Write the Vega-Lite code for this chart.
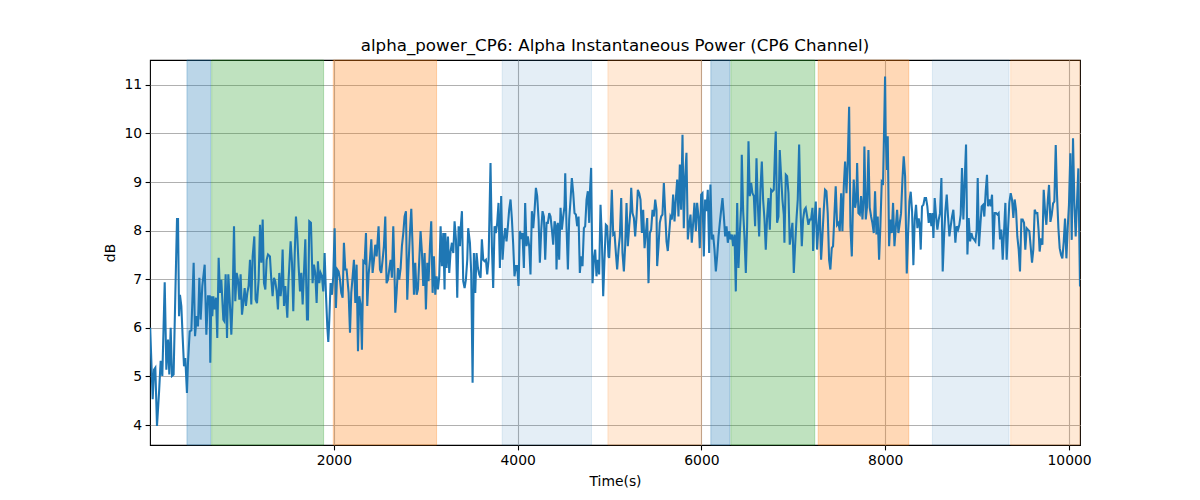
{
"$schema":"https://vega.github.io/schema/vega-lite/v6.json",
"autosize":{"type":"none"},
"width":930,"height":385,
"padding":{"left":150,"top":60,"right":120,"bottom":55},
"background":"white",
"title":{"text":"alpha_power_CP6: Alpha Instantaneous Power (CP6 Channel)","font":"DejaVu Sans","fontSize":16.67,"fontWeight":"normal","color":"black","baseline":"alphabetic","offset":-8},
"config":{"font":"DejaVu Sans","view":{"stroke":"black","strokeWidth":1.1},
"axis":{"domain":false,"grid":true,"gridColor":"#b0b0b0","gridWidth":1.1,"tickColor":"black","tickSize":4.9,"tickWidth":1.1,"labelFont":"DejaVu Sans","labelFontSize":13.9,"labelColor":"black","labelPadding":3.5,"titleFont":"DejaVu Sans","titleFontSize":13.9,"titleFontWeight":"normal","titleColor":"black"}},
"datasets":{
"spans":[
{"start":402,"end":660,"kind":"blue"},
{"start":671,"end":1889,"kind":"green"},
{"start":1994,"end":3118,"kind":"orange"},
{"start":3832,"end":4804,"kind":"lightblue"},
{"start":4982,"end":6001,"kind":"lightorange"},
{"start":6102,"end":6309,"kind":"blue"},
{"start":6320,"end":7233,"kind":"green"},
{"start":7270,"end":8256,"kind":"orange"},
{"start":8513,"end":9347,"kind":"lightblue"},
{"start":9365,"end":10119,"kind":"lightorange"}
],
"sig":[
{"t":2,"v":6.0},{"t":29,"v":4.53},{"t":44,"v":5.14},{"t":58,"v":5.18},{"t":76,"v":3.98},{"t":98,"v":4.66},{"t":116,"v":5.32},{"t":134,"v":5.01},{"t":160,"v":6.94},{"t":178,"v":5.14},{"t":196,"v":5.76},{"t":210,"v":5.04},{"t":225,"v":6.0},{"t":239,"v":5.01},{"t":257,"v":5.04},{"t":276,"v":6.72},{"t":294,"v":8.24},{"t":305,"v":8.24},{"t":316,"v":6.24},{"t":326,"v":6.68},{"t":341,"v":6.45},{"t":355,"v":5.83},{"t":370,"v":5.21},{"t":384,"v":5.38},{"t":402,"v":4.66},{"t":413,"v":5.28},{"t":432,"v":5.93},{"t":450,"v":5.95},{"t":475,"v":7.34},{"t":490,"v":5.83},{"t":508,"v":6.24},{"t":522,"v":6.03},{"t":537,"v":7.03},{"t":551,"v":6.17},{"t":569,"v":6.86},{"t":595,"v":7.3},{"t":613,"v":5.86},{"t":631,"v":6.65},{"t":649,"v":6.65},{"t":656,"v":5.28},{"t":667,"v":6.65},{"t":678,"v":6.24},{"t":689,"v":6.65},{"t":703,"v":6.38},{"t":718,"v":6.62},{"t":732,"v":5.79},{"t":747,"v":7.44},{"t":761,"v":6.72},{"t":776,"v":6.99},{"t":798,"v":6.17},{"t":808,"v":6.14},{"t":823,"v":7.1},{"t":838,"v":5.79},{"t":852,"v":7.1},{"t":867,"v":6.58},{"t":885,"v":5.86},{"t":899,"v":6.58},{"t":914,"v":8.09},{"t":928,"v":6.55},{"t":943,"v":7.13},{"t":957,"v":6.99},{"t":972,"v":6.58},{"t":986,"v":7.1},{"t":1001,"v":6.27},{"t":1015,"v":6.51},{"t":1030,"v":6.82},{"t":1044,"v":6.45},{"t":1059,"v":6.72},{"t":1073,"v":6.86},{"t":1088,"v":7.4},{"t":1102,"v":6.48},{"t":1117,"v":7.47},{"t":1135,"v":7.88},{"t":1149,"v":6.58},{"t":1164,"v":6.51},{"t":1182,"v":6.99},{"t":1197,"v":8.12},{"t":1211,"v":7.34},{"t":1226,"v":8.23},{"t":1240,"v":6.92},{"t":1255,"v":6.79},{"t":1269,"v":7.4},{"t":1284,"v":7.51},{"t":1305,"v":7.47},{"t":1320,"v":6.99},{"t":1334,"v":6.65},{"t":1349,"v":7.03},{"t":1363,"v":6.96},{"t":1378,"v":6.75},{"t":1392,"v":6.38},{"t":1407,"v":7.13},{"t":1421,"v":6.65},{"t":1429,"v":6.79},{"t":1443,"v":7.61},{"t":1458,"v":6.45},{"t":1472,"v":6.86},{"t":1494,"v":6.21},{"t":1508,"v":6.99},{"t":1530,"v":7.78},{"t":1545,"v":7.34},{"t":1559,"v":6.34},{"t":1574,"v":7.47},{"t":1588,"v":8.29},{"t":1603,"v":7.88},{"t":1617,"v":7.27},{"t":1632,"v":6.75},{"t":1646,"v":7.13},{"t":1661,"v":6.48},{"t":1675,"v":7.13},{"t":1690,"v":7.82},{"t":1708,"v":6.17},
{"t":1719,"v":6.17},{"t":1733,"v":8.19},{"t":1751,"v":8.16},{"t":1769,"v":6.92},{"t":1784,"v":7.3},{"t":1798,"v":7.13},{"t":1813,"v":6.51},{"t":1827,"v":7.37},{"t":1842,"v":6.92},{"t":1856,"v":7.13},{"t":1871,"v":7.06},{"t":1885,"v":6.75},{"t":1900,"v":7.54},{"t":1914,"v":6.72},{"t":1929,"v":6.03},{"t":1940,"v":5.71},{"t":1951,"v":6.17},{"t":1965,"v":6.92},{"t":1980,"v":6.68},{"t":1994,"v":7.06},{"t":2009,"v":8.05},{"t":2023,"v":6.41},{"t":2038,"v":7.2},{"t":2052,"v":7.16},{"t":2067,"v":6.99},{"t":2081,"v":6.72},{"t":2096,"v":6.62},{"t":2110,"v":7.75},{"t":2125,"v":7.2},{"t":2139,"v":7.2},{"t":2161,"v":6.72},{"t":2176,"v":5.9},{"t":2190,"v":6.72},{"t":2205,"v":7.06},{"t":2219,"v":7.4},{"t":2234,"v":6.51},{"t":2248,"v":7.3},{"t":2263,"v":5.52},{"t":2277,"v":6.65},{"t":2292,"v":6.48},{"t":2306,"v":5.55},{"t":2321,"v":7.37},{"t":2335,"v":7.34},{"t":2350,"v":7.95},{"t":2364,"v":6.45},{"t":2379,"v":7.1},{"t":2393,"v":7.4},{"t":2408,"v":7.82},{"t":2422,"v":7.13},{"t":2437,"v":7.4},{"t":2451,"v":7.71},{"t":2466,"v":7.47},{"t":2487,"v":8.09},{"t":2502,"v":7.2},{"t":2516,"v":7.13},{"t":2531,"v":7.4},{"t":2545,"v":7.68},{"t":2560,"v":8.29},{"t":2574,"v":6.92},{"t":2589,"v":6.99},{"t":2603,"v":7.2},{"t":2618,"v":7.4},{"t":2632,"v":7.03},{"t":2647,"v":8.09},{"t":2661,"v":7.06},{"t":2669,"v":6.31},{"t":2683,"v":6.72},{"t":2698,"v":7.23},{"t":2712,"v":6.99},{"t":2727,"v":7.23},{"t":2741,"v":7.68},{"t":2756,"v":7.95},{"t":2770,"v":8.29},{"t":2785,"v":8.4},{"t":2799,"v":6.58},{"t":2814,"v":7.34},{"t":2828,"v":7.95},{"t":2843,"v":8.45},{"t":2857,"v":7.68},{"t":2872,"v":6.68},{"t":2886,"v":7.34},{"t":2901,"v":6.68},{"t":2915,"v":6.79},{"t":2930,"v":7.4},{"t":2944,"v":7.99},{"t":2959,"v":7.54},{"t":2973,"v":6.86},{"t":2988,"v":7.54},{"t":3002,"v":6.38},{"t":3017,"v":7.34},{"t":3031,"v":6.96},{"t":3046,"v":7.68},{"t":3060,"v":8.19},{"t":3075,"v":6.72},{"t":3089,"v":7.47},{"t":3104,"v":6.68},{"t":3118,"v":7.06},{"t":3133,"v":6.79},{"t":3147,"v":7.06},{"t":3162,"v":8.09},{"t":3176,"v":7.27},{"t":3191,"v":7.95},{"t":3205,"v":6.79},{"t":3213,"v":7.95},{"t":3227,"v":7.23},{"t":3242,"v":7.88},{"t":3256,"v":7.13},{"t":3271,"v":7.58},{"t":3285,"v":7.75},{"t":3300,"v":7.54},{"t":3314,"v":8.19},{"t":3329,"v":7.82},{"t":3343,"v":6.62},{"t":3358,"v":8.09},
{"t":3372,"v":7.68},{"t":3383,"v":8.12},{"t":3394,"v":8.4},{"t":3408,"v":6.96},{"t":3423,"v":6.82},{"t":3437,"v":6.99},{"t":3452,"v":7.4},{"t":3462,"v":8.05},{"t":3481,"v":7.75},{"t":3495,"v":7.13},{"t":3510,"v":4.87},{"t":3524,"v":7.54},{"t":3539,"v":6.72},{"t":3553,"v":7.54},{"t":3568,"v":7.23},{"t":3582,"v":7.1},{"t":3597,"v":7.03},{"t":3611,"v":7.82},{"t":3626,"v":7.4},{"t":3640,"v":7.37},{"t":3655,"v":7.4},{"t":3669,"v":7.1},{"t":3684,"v":7.4},{"t":3705,"v":9.39},{"t":3720,"v":7.68},{"t":3734,"v":6.82},{"t":3749,"v":8.09},{"t":3763,"v":7.95},{"t":3778,"v":8.16},{"t":3792,"v":8.57},{"t":3807,"v":7.23},{"t":3821,"v":8.71},{"t":3836,"v":7.4},{"t":3850,"v":7.82},{"t":3865,"v":8.05},{"t":3879,"v":7.78},{"t":3894,"v":8.09},{"t":3908,"v":8.43},{"t":3923,"v":8.64},{"t":3937,"v":8.26},{"t":3952,"v":7.71},{"t":3966,"v":7.06},{"t":3981,"v":7.27},{"t":3995,"v":7.27},{"t":4010,"v":6.86},{"t":4024,"v":7.99},{"t":4039,"v":7.88},{"t":4053,"v":7.95},{"t":4068,"v":7.23},{"t":4082,"v":8.57},{"t":4097,"v":7.68},{"t":4111,"v":7.88},{"t":4126,"v":7.68},{"t":4140,"v":7.1},{"t":4155,"v":8.4},{"t":4170,"v":8.05},{"t":4184,"v":8.4},{"t":4199,"v":8.88},{"t":4213,"v":8.71},{"t":4228,"v":8.23},{"t":4242,"v":7.34},{"t":4257,"v":8.02},{"t":4271,"v":8.4},{"t":4286,"v":8.29},{"t":4300,"v":7.4},{"t":4315,"v":8.16},{"t":4329,"v":8.16},{"t":4344,"v":8.36},{"t":4358,"v":8.29},{"t":4373,"v":8.02},{"t":4387,"v":7.71},{"t":4402,"v":8.19},{"t":4416,"v":8.09},{"t":4423,"v":7.2},{"t":4438,"v":8.16},{"t":4452,"v":7.4},{"t":4467,"v":8.47},{"t":4481,"v":8.02},{"t":4496,"v":8.29},{"t":4510,"v":8.5},{"t":4518,"v":9.18},{"t":4532,"v":8.09},{"t":4547,"v":7.2},{"t":4561,"v":8.23},{"t":4576,"v":8.64},{"t":4590,"v":9.08},{"t":4605,"v":8.77},{"t":4619,"v":8.36},{"t":4634,"v":8.33},{"t":4648,"v":8.09},{"t":4663,"v":8.29},{"t":4677,"v":7.13},{"t":4692,"v":7.47},{"t":4706,"v":7.27},{"t":4721,"v":8.05},{"t":4735,"v":8.09},{"t":4750,"v":8.64},{"t":4764,"v":8.81},{"t":4779,"v":8.16},{"t":4786,"v":8.77},{"t":4800,"v":9.29},{"t":4815,"v":6.92},{"t":4829,"v":7.4},{"t":4844,"v":7.61},{"t":4858,"v":7.06},{"t":4873,"v":7.4},{"t":4887,"v":7.1},{"t":4902,"v":8.53},{"t":4916,"v":7.88},{"t":4931,"v":6.65},{"t":4945,"v":7.4},{"t":4960,"v":8.12},{"t":4974,"v":8.09},{"t":4989,"v":7.47},
{"t":4996,"v":7.44},{"t":5011,"v":8.02},{"t":5025,"v":8.84},{"t":5040,"v":7.92},{"t":5054,"v":7.95},{"t":5069,"v":7.54},{"t":5083,"v":7.2},{"t":5098,"v":7.61},{"t":5112,"v":7.88},{"t":5127,"v":8.67},{"t":5141,"v":7.54},{"t":5156,"v":7.16},{"t":5170,"v":7.68},{"t":5185,"v":8.57},{"t":5199,"v":7.68},{"t":5214,"v":8.09},{"t":5228,"v":8.43},{"t":5236,"v":8.88},{"t":5250,"v":8.36},{"t":5265,"v":8.26},{"t":5279,"v":7.88},{"t":5294,"v":8.29},{"t":5308,"v":8.84},{"t":5323,"v":8.77},{"t":5337,"v":8.64},{"t":5352,"v":7.95},{"t":5366,"v":8.43},{"t":5381,"v":7.64},{"t":5395,"v":7.95},{"t":5410,"v":8.26},{"t":5424,"v":6.92},{"t":5439,"v":7.95},{"t":5453,"v":8.02},{"t":5468,"v":8.43},{"t":5482,"v":8.29},{"t":5497,"v":8.64},{"t":5511,"v":8.43},{"t":5518,"v":7.27},{"t":5533,"v":7.68},{"t":5547,"v":8.16},{"t":5562,"v":8.29},{"t":5576,"v":8.33},{"t":5591,"v":8.98},{"t":5605,"v":8.4},{"t":5620,"v":7.78},{"t":5634,"v":7.58},{"t":5649,"v":7.95},{"t":5663,"v":8.29},{"t":5678,"v":8.23},{"t":5692,"v":8.74},{"t":5707,"v":8.19},{"t":5721,"v":8.64},{"t":5736,"v":9.05},{"t":5750,"v":8.29},{"t":5765,"v":9.36},{"t":5779,"v":8.43},{"t":5794,"v":9.97},{"t":5808,"v":8.05},{"t":5823,"v":9.12},{"t":5837,"v":9.6},{"t":5852,"v":7.82},{"t":5866,"v":8.12},{"t":5881,"v":8.33},{"t":5895,"v":7.75},{"t":5910,"v":8.16},{"t":5924,"v":8.57},{"t":5939,"v":7.99},{"t":5953,"v":8.57},{"t":5968,"v":8.29},{"t":5982,"v":7.64},{"t":5997,"v":8.74},{"t":6011,"v":8.77},{"t":6026,"v":7.47},{"t":6040,"v":8.64},{"t":6055,"v":8.4},{"t":6069,"v":8.84},{"t":6084,"v":7.54},{"t":6098,"v":8.95},{"t":6113,"v":7.82},{"t":6127,"v":7.92},{"t":6142,"v":7.61},{"t":6157,"v":7.16},{"t":6171,"v":7.47},{"t":6186,"v":7.88},{"t":6200,"v":8.16},{"t":6215,"v":8.43},{"t":6229,"v":8.67},{"t":6244,"v":8.29},{"t":6258,"v":7.88},{"t":6273,"v":8.09},{"t":6287,"v":7.75},{"t":6302,"v":7.99},{"t":6316,"v":7.82},{"t":6331,"v":7.92},{"t":6345,"v":7.68},{"t":6360,"v":7.92},{"t":6374,"v":6.75},{"t":6389,"v":8.57},{"t":6403,"v":7.23},{"t":6418,"v":7.95},{"t":6432,"v":8.5},{"t":6439,"v":9.56},{"t":6454,"v":8.4},{"t":6468,"v":7.88},{"t":6483,"v":7.13},{"t":6497,"v":8.09},{"t":6512,"v":9.84},{"t":6526,"v":8.71},{"t":6541,"v":8.98},{"t":6555,"v":8.77},{"t":6570,"v":8.71},{"t":6584,"v":8.09},{"t":6599,"v":9.49},{"t":6613,"v":8.57},{"t":6628,"v":7.88},
{"t":6642,"v":8.84},{"t":6657,"v":9.42},{"t":6671,"v":8.64},{"t":6686,"v":8.23},{"t":6700,"v":7.61},{"t":6715,"v":8.29},{"t":6729,"v":8.67},{"t":6744,"v":8.02},{"t":6758,"v":8.84},{"t":6773,"v":8.81},{"t":6787,"v":8.84},{"t":6802,"v":9.73},{"t":6809,"v":10.04},{"t":6823,"v":8.16},{"t":6838,"v":8.29},{"t":6852,"v":9.66},{"t":6867,"v":9.12},{"t":6881,"v":8.64},{"t":6896,"v":8.33},{"t":6903,"v":7.75},{"t":6918,"v":9.15},{"t":6932,"v":9.12},{"t":6947,"v":8.77},{"t":6961,"v":7.71},{"t":6976,"v":7.95},{"t":6990,"v":8.16},{"t":7005,"v":7.13},{"t":7019,"v":7.68},{"t":7034,"v":8.23},{"t":7048,"v":8.64},{"t":7063,"v":9.77},{"t":7077,"v":8.5},{"t":7092,"v":7.68},{"t":7106,"v":8.23},{"t":7121,"v":8.43},{"t":7135,"v":8.47},{"t":7150,"v":8.29},{"t":7164,"v":8.12},{"t":7179,"v":8.23},{"t":7193,"v":8.23},{"t":7208,"v":8.47},{"t":7215,"v":7.58},{"t":7229,"v":8.23},{"t":7244,"v":8.6},{"t":7258,"v":7.61},{"t":7273,"v":8.09},{"t":7287,"v":8.47},{"t":7302,"v":7.4},{"t":7316,"v":7.88},{"t":7331,"v":8.43},{"t":7345,"v":8.84},{"t":7360,"v":8.81},{"t":7374,"v":8.36},{"t":7389,"v":7.4},{"t":7403,"v":7.2},{"t":7418,"v":7.64},{"t":7432,"v":7.68},{"t":7447,"v":8.33},{"t":7461,"v":8.91},{"t":7476,"v":8.12},{"t":7491,"v":8.16},{"t":7505,"v":7.99},{"t":7520,"v":8.77},{"t":7534,"v":7.99},{"t":7549,"v":8.91},{"t":7563,"v":9.42},{"t":7578,"v":8.77},{"t":7592,"v":9.42},{"t":7607,"v":10.55},{"t":7621,"v":8.09},{"t":7636,"v":7.47},{"t":7650,"v":8.64},{"t":7657,"v":9.05},{"t":7672,"v":8.47},{"t":7686,"v":8.64},{"t":7694,"v":9.39},{"t":7708,"v":8.36},{"t":7723,"v":8.33},{"t":7737,"v":8.71},{"t":7752,"v":8.23},{"t":7766,"v":8.71},{"t":7773,"v":9.73},{"t":7788,"v":8.23},{"t":7802,"v":8.5},{"t":7817,"v":9.66},{"t":7831,"v":8.47},{"t":7846,"v":8.29},{"t":7860,"v":8.16},{"t":7875,"v":7.95},{"t":7889,"v":8.81},{"t":7904,"v":7.92},{"t":7918,"v":8.29},{"t":7933,"v":7.4},{"t":7947,"v":8.09},{"t":7962,"v":9.01},{"t":7976,"v":8.98},{"t":7991,"v":10.42},{"t":7998,"v":11.17},{"t":8005,"v":9.94},{"t":8020,"v":9.25},{"t":8027,"v":9.94},{"t":8042,"v":7.68},{"t":8056,"v":8.23},{"t":8071,"v":7.95},{"t":8085,"v":8.57},{"t":8100,"v":7.68},{"t":8114,"v":8.05},{"t":8129,"v":8.43},{"t":8143,"v":7.95},{"t":8158,"v":8.16},{"t":8172,"v":8.36},{"t":8187,"v":9.05},{"t":8201,"v":9.53},{"t":8216,"v":9.12},
{"t":8234,"v":7.12},{"t":8248,"v":7.91},{"t":8263,"v":8.6},{"t":8277,"v":8.8},{"t":8292,"v":8.39},{"t":8306,"v":7.29},{"t":8321,"v":8.25},{"t":8335,"v":8.53},{"t":8350,"v":8.05},{"t":8364,"v":8.25},
{"t":8375,"v":8.12},{"t":8386,"v":7.61},{"t":8400,"v":8.5},{"t":8415,"v":8.53},{"t":8429,"v":8.67},{"t":8444,"v":8.67},{"t":8458,"v":8.5},{"t":8473,"v":8.16},{"t":8487,"v":8.36},{"t":8502,"v":8.09},{"t":8513,"v":8.36},{"t":8524,"v":7.85},{"t":8538,"v":8.67},{"t":8553,"v":8.29},{"t":8567,"v":8.02},{"t":8582,"v":8.23},{"t":8596,"v":8.36},{"t":8611,"v":9.08},{"t":8625,"v":7.16},{"t":8640,"v":7.88},{"t":8654,"v":8.4},{"t":8669,"v":8.74},{"t":8683,"v":8.29},{"t":8698,"v":7.88},{"t":8712,"v":8.09},{"t":8727,"v":8.29},{"t":8741,"v":8.43},{"t":8752,"v":8.12},{"t":8763,"v":7.75},{"t":8777,"v":8.09},{"t":8792,"v":8.02},{"t":8806,"v":8.12},{"t":8821,"v":8.33},{"t":8835,"v":9.29},{"t":8850,"v":8.23},{"t":8865,"v":9.05},{"t":8879,"v":9.77},{"t":8894,"v":7.51},{"t":8908,"v":8.26},{"t":8923,"v":7.78},{"t":8937,"v":7.95},{"t":8952,"v":7.85},{"t":8966,"v":7.82},{"t":8981,"v":7.78},{"t":8995,"v":8.02},{"t":9006,"v":9.08},{"t":9020,"v":7.68},{"t":9035,"v":8.12},{"t":9049,"v":8.5},{"t":9064,"v":8.53},{"t":9078,"v":8.29},{"t":9093,"v":8.81},{"t":9107,"v":9.15},{"t":9118,"v":8.5},{"t":9133,"v":8.64},{"t":9147,"v":8.5},{"t":9162,"v":8.74},{"t":9176,"v":7.61},{"t":9191,"v":8.36},{"t":9205,"v":8.36},{"t":9220,"v":8.33},{"t":9234,"v":8.36},{"t":9249,"v":7.82},{"t":9263,"v":8.02},{"t":9278,"v":7.4},{"t":9292,"v":7.95},{"t":9307,"v":8.57},{"t":9321,"v":7.4},{"t":9336,"v":8.02},{"t":9350,"v":8.57},{"t":9365,"v":8.77},{"t":9379,"v":8.64},{"t":9394,"v":8.26},{"t":9408,"v":8.64},{"t":9423,"v":8.43},{"t":9437,"v":7.88},{"t":9452,"v":7.61},{"t":9466,"v":7.16},{"t":9481,"v":8.23},{"t":9495,"v":8.23},{"t":9510,"v":8.16},{"t":9524,"v":7.61},{"t":9539,"v":8.05},{"t":9553,"v":8.02},{"t":9568,"v":7.99},{"t":9582,"v":7.68},{"t":9597,"v":7.34},{"t":9611,"v":7.61},{"t":9626,"v":8.43},{"t":9640,"v":8.36},{"t":9655,"v":8.36},{"t":9669,"v":7.99},
{"t":9680,"v":7.57},{"t":9695,"v":7.84},{"t":9710,"v":7.71},{"t":9724,"v":8.84},{"t":9739,"v":8.39},{"t":9753,"v":8.12},{"t":9768,"v":8.6},{"t":9782,"v":8.94},{"t":9797,"v":8.18},{"t":9811,"v":8.32},{"t":9826,"v":8.56},{"t":9840,"v":8.6},{"t":9855,"v":9.76},{"t":9869,"v":8.73},{"t":9884,"v":8.05},{"t":9898,"v":7.64},{"t":9913,"v":7.5},{"t":9927,"v":7.43},{"t":9942,"v":7.77},{"t":9956,"v":8.25},{"t":9971,"v":7.43},{"t":9985,"v":8.05},{"t":9999,"v":8.53},{"t":10014,"v":9.59},{"t":10029,"v":7.81},{"t":10043,"v":9.9},{"t":10058,"v":8.53},{"t":10072,"v":7.88},{"t":10087,"v":8.6},{"t":10101,"v":9.28},{"t":10119,"v":6.85}
]},
"encoding":{
"x":{"field":"t","type":"quantitative","scale":{"domain":[0,10119],"nice":false,"zero":false},"axis":{"title":"Time(s)","values":[2000,4000,6000,8000,10000],"format":"d","titlePadding":7}}
},
"layer":[
{"data":{"name":"spans"},"transform":[{"filter":"datum.kind === 'blue' || datum.kind === 'green' || datum.kind === 'orange'"}],
"mark":{"type":"rect","strokeWidth":1,"fillOpacity":0.3,"strokeOpacity":0.3},
"encoding":{
"x":{"field":"start","type":"quantitative"},
"x2":{"field":"end"},
"color":{"field":"kind","type":"nominal","scale":{"domain":["blue","green","orange","lightblue","lightorange"],"range":["#1f77b4","#2ca02c","#ff7f0e","#1f77b4","#ff7f0e"]},"legend":null},
"stroke":{"field":"kind","type":"nominal","scale":{"domain":["blue","green","orange","lightblue","lightorange"],"range":["#1f77b4","#2ca02c","#ff7f0e","#1f77b4","#ff7f0e"]},"legend":null}
}},
{"data":{"name":"spans"},"transform":[{"filter":"datum.kind === 'lightblue'"}],
"mark":{"type":"rect","strokeWidth":1,"fillOpacity":0.12,"strokeOpacity":0.12},
"encoding":{
"x":{"field":"start","type":"quantitative"},
"x2":{"field":"end"},
"color":{"field":"kind","type":"nominal","legend":null},
"stroke":{"field":"kind","type":"nominal","legend":null}
}},
{"data":{"name":"spans"},"transform":[{"filter":"datum.kind === 'lightorange'"}],
"mark":{"type":"rect","strokeWidth":1,"fillOpacity":0.17,"strokeOpacity":0.17},
"encoding":{
"x":{"field":"start","type":"quantitative"},
"x2":{"field":"end"},
"color":{"field":"kind","type":"nominal","legend":null},
"stroke":{"field":"kind","type":"nominal","legend":null}
}},
{"data":{"name":"sig"},"mark":{"type":"line","color":"#1f77b4","strokeWidth":2.08,"clip":true},
"encoding":{
"y":{"field":"v","type":"quantitative","scale":{"domain":[3.59,11.51],"nice":false,"zero":false},"axis":{"title":"dB","values":[4,5,6,7,8,9,10,11],"titlePadding":6}}
}}
]
}
